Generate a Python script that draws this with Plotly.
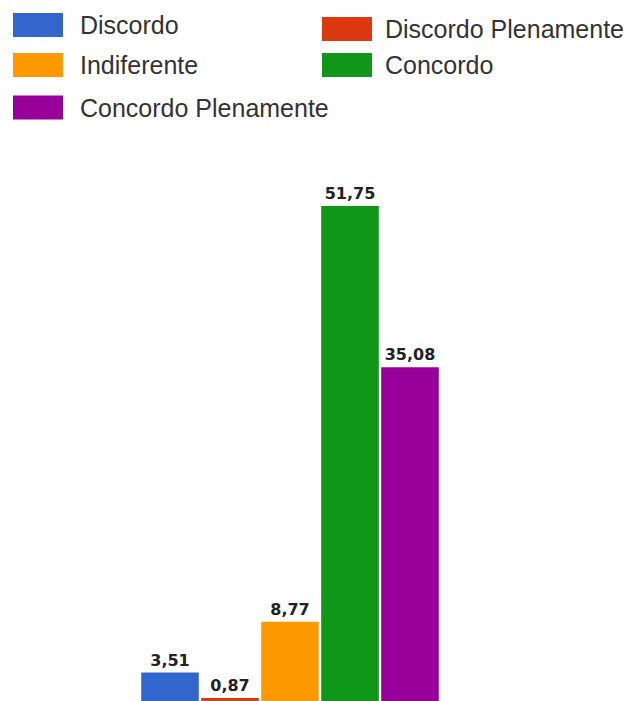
import plotly.graph_objects as go

# ---- data ----
categories = ["Discordo", "Discordo Plenamente", "Indiferente", "Concordo", "Concordo Plenamente"]
values = [3.51, 0.87, 8.77, 51.75, 35.08]
value_labels = ["3,51", "0,87", "8,77", "51,75", "35,08"]
colors = ["#3366CC", "#DC3912", "#FF9900", "#109618", "#990099"]

# ---- layout geometry (pixels) ----
W, H = 637, 701
L, R, T, B = 0, 57, 140, 0
pw, ph = W - L - R, H - T - B


def px_x(x):
    return (x - L) / pw


def px_y(y):
    return (H - B - y) / ph


fig = go.Figure()
for name, v, lab, col in zip(categories, values, value_labels, colors):
    fig.add_trace(go.Bar(
        x=[""], y=[v], name=name,
        text=[lab], textposition="outside", constraintext="none",
        textfont=dict(family="DejaVu Sans", size=16, color="#222222", weight="bold"),
        marker=dict(color=col, line=dict(width=0)),
        showlegend=False, hoverinfo="skip",
    ))

# custom legend (2 columns)
sw_x = [13, 322]
tx_x = [78, 383]
row_centers = [[25, 29], [65, 65], [107.5, 107.5]]
shapes, annotations = [], []
for i, (name, col) in enumerate(zip(categories, colors)):
    c, r = i % 2, i // 2
    cy = row_centers[r][c]
    shapes.append(dict(type="rect", xref="paper", yref="paper",
                       x0=px_x(sw_x[c]), x1=px_x(sw_x[c] + 50),
                       y0=px_y(cy + 12), y1=px_y(cy - 12),
                       fillcolor=col, line=dict(width=0)))
    annotations.append(dict(xref="paper", yref="paper", x=px_x(tx_x[c]), y=px_y(cy),
                            xanchor="left", yanchor="middle", showarrow=False,
                            text=name, font=dict(family="Liberation Sans", size=25, color="#333333")))

fig.update_layout(
    width=W, height=H,
    margin=dict(l=L, r=R, t=T, b=B, pad=0),
    paper_bgcolor="white", plot_bgcolor="white",
    barmode="group", bargap=0.4828, bargroupgap=0.04,
    xaxis=dict(visible=False, range=[-0.5, 0.5]),
    yaxis=dict(visible=False, range=[0.57, 58.57]),
    shapes=shapes, annotations=annotations,
    showlegend=False,
)

fig.write_html("out.html")
